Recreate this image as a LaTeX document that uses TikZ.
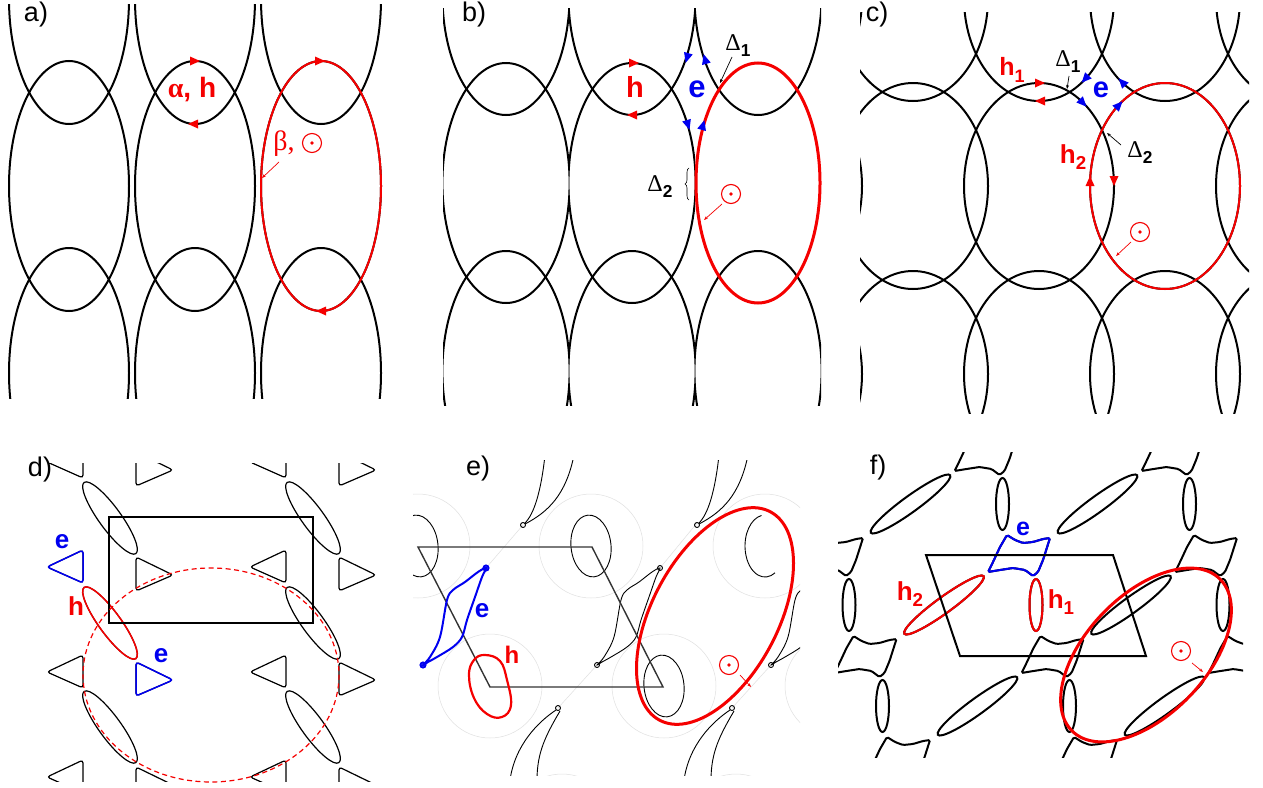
\documentclass[tikz,border=0pt]{standalone}
\usepackage{fontspec}
\setmainfont{Liberation Sans}
\newfontfamily\grk{Liberation Serif}
\usetikzlibrary{arrows.meta,decorations.pathreplacing}
\definecolor{myred}{RGB}{245,0,0}
\definecolor{myblue}{RGB}{0,0,240}
\newcommand\ahd[4]{\fill[#4,shift={(#1,#2)},rotate=#3] (5,0) -- (-5,4.5) -- (-5,-4.5) -- cycle;}
\newcommand\odotsym[2]{\draw[myred,line width=1.1pt] (#1,#2) circle (9.5);\fill[myred] (#1,#2) circle (1.8);}
\newcommand\sub[1]{\raisebox{-0.25em}{\scalebox{0.72}{#1}}}
\newcommand\cushion[1]{\draw[#1,rounded corners=1.5pt] (1007,535) -- (1015,540) -- (1023,543) -- (1033,542) -- (1043,539) -- (1050,538) -- (1043,560) -- (1038,572) -- (1033,576) -- (1025,570) -- (1013,568) -- (1000,570) -- (988,572) -- (993,562) -- (1000,547) -- cycle;}
\newcommand\epocket[2]{\draw[#1,shift={(#2,0)}] plot[smooth cycle,tension=0.55] coordinates {(423,665) (430,657) (440,637) (447,600) (453,590) (465,582) (478,572) (486,568) (482,577) (475,597) (467,620) (462,637) (453,647) (437,657) (428,662)};
\draw[#1,shift={(#2,0)}] (486,568) circle (2.5) (423,665) circle (2.5);}
\newcommand\toptail[1]{\begin{scope}[shift={(#1,0)}]\draw[eblk] (545,455) .. controls (541,492) and (534,514) .. (525,523);\draw[eblk] (574,455) .. controls (566,495) and (548,512) .. (525,524);\draw[eblk] (523,525) circle (2.5);\end{scope}}
\newcommand\bottail[1]{\begin{scope}[shift={(#1,0)}]\draw[eblk] (556,710) .. controls (538,722) and (515,745) .. (510,780);\draw[eblk] (560,711) .. controls (546,735) and (537,752) .. (537,780);\draw[eblk] (558,708) circle (2.5);\end{scope}}
\begin{document}
\begin{tikzpicture}[x=1pt,y=-1pt,
  blk/.style={line width=2pt,black},
  redl/.style={line width=2pt,myred},
  thk/.style={line width=3pt,myred},
  dblk/.style={line width=1.2pt,black},
  eblk/.style={line width=0.9pt,black},
  faint/.style={line width=0.5pt,black!12},
  fblk/.style={line width=2pt,black},
  lab/.style={font=\fontsize{27}{30}\selectfont,inner sep=0pt},
  rb/.style={font=\fontsize{#1}{#1}\selectfont\bfseries,text=myred,inner sep=0pt},
  rb/.default=26,
  bb/.style={font=\fontsize{#1}{#1}\selectfont\bfseries,text=myblue,inner sep=0pt},
  bb/.default=28,
  dl/.style={font=\fontsize{24}{26}\selectfont,inner sep=0pt},
  ptr/.style={line width=0.7pt,-{Stealth[length=4pt,width=3pt]}}]
\useasboundingbox (0,0) rectangle (1263,787);
\fill[white] (0,0) rectangle (1263,787);

% ---------------- panel a
\begin{scope}
\clip (4,4) rectangle (387,398);
\foreach \i in {0,1,2}{\foreach \j in {0,1,2}{
  \draw[blk] ({69+126*\i},{-1+187*\j}) ellipse [x radius=60,y radius=125];}}
\end{scope}
\draw[redl] (321,186) ellipse [x radius=60,y radius=125];
\ahd{195}{61}{0}{myred}\ahd{193}{124}{180}{myred}
\ahd{320}{61}{0}{myred}\ahd{321}{311}{180}{myred}
\node[lab] (la) at (36,15) {a)};
\node[rb=28] (ah) at (192,90) {{\grk α}, h};
\node[font=\fontsize{28}{30}\selectfont\grk,text=myred,inner sep=0pt] (beta) at (284,144) {β,};
\odotsym{312}{143}
\coordinate (bas) at (279,162); \coordinate (bae) at (262,178);
\draw[ptr,myred] (bas) -- (bae);

% ---------------- panel b
\foreach \c in {506,632}{
 \begin{scope}
 \clip ({\c-63},8) rectangle ({\c+63},405);
 \foreach \yy in {-5,183,371}{\draw[blk] (\c,\yy) ellipse [x radius=63.6,y radius=120];}
 \end{scope}}
\begin{scope}
\clip (695,8) rectangle (821,405);
\draw[blk] (758,-5) ellipse [x radius=63.6,y radius=120];
\draw[blk] (758,371) ellipse [x radius=63.6,y radius=120];
\end{scope}
\draw[thk] (758,183) ellipse [x radius=62,y radius=120];
\ahd{634}{63}{0}{myred}\ahd{632}{115}{180}{myred}
\ahd{687}{58}{-106}{myblue}\ahd{705}{59}{106}{myblue}
\ahd{688}{125}{-73}{myblue}\ahd{703}{125}{74}{myblue}
\node[lab] (lb) at (474,15) {b)};
\node[rb=29] (hb) at (635,87) {h};
\node[bb=31] (eb) at (697,89) {e};
\node[dl] (d1b) at (738,46) {{\grk Δ}\sub{\bfseries 1}};
\coordinate (d1bt) at (720,83); \coordinate (d1bs) at (732,57);
\draw[ptr] (d1bs) -- (d1bt);
\node[dl] (d2b) at (660,187) {{\grk Δ}\sub{\bfseries 2}};
\draw[line width=0.6pt,decorate,decoration={brace,amplitude=4pt}] (689,200) -- (689,168);
\odotsym{731}{194}
\coordinate (obs) at (722,204); \coordinate (obe) at (704,220);
\draw[ptr,myred] (obs) -- (obe);

% ---------------- panel c
\begin{scope}
\clip (860,12) rectangle (1249,413);
\foreach \i in {-1,0,1,2,3}{\foreach \j in {0,1,2}{
  \draw[blk] ({913+126*\i},{-2+188*\j}) ellipse [x radius=75,y radius=103];}}
\draw[redl] (1165,186) ellipse [x radius=75,y radius=103];
\end{scope}
\ahd{1040}{83}{0}{myred}\ahd{1040}{101}{180}{myred}
\ahd{1090}{181}{90}{myred}\ahd{1114}{181}{-90}{myred}
\ahd{1085}{79}{-133}{myblue}\ahd{1122}{82}{133}{myblue}
\ahd{1083}{103}{-47}{myblue}\ahd{1119}{105}{47}{myblue}
\node[lab] (lc) at (877,15) {c)};
\node[rb=25] (h1c) at (1012,70) {h\sub{1}};
\node[dl] (d1c) at (1068,62) {{\grk Δ}\sub{\bfseries 1}};
\coordinate (d1ct) at (1067,89); \coordinate (d1cs) at (1069,76);
\draw[ptr] (d1cs) -- (d1ct);
\node[bb=29] (ec) at (1101,90) {e};
\node[dl] (d2c) at (1140,153) {{\grk Δ}\sub{\bfseries 2}};
\coordinate (d2cs) at (1121,145); \coordinate (d2ct) at (1107,133);
\draw[ptr] (d2cs) -- (d2ct);
\node[rb=26] (h2c) at (1073,157) {h\sub{2}};
\odotsym{1140}{232}
\coordinate (ocs) at (1131,242); \coordinate (oce) at (1116,256);
\draw[ptr,myred] (ocs) -- (oce);

% ---------------- panel d
\begin{scope}
\clip (44,463) rectangle (381,781);
\foreach \x in {110,313}{\foreach \y in {518,623,727}{
  \draw[dblk,rotate around={-54:(\x,\y)}] (\x,\y) ellipse [x radius=44,y radius=11];}}
\foreach \x in {65,268}{\foreach \y in {462,567,672,777}{
  \draw[dblk,rounded corners=3pt] ({\x+18},{\y-17}) -- ({\x+18},{\y+16}) -- ({\x-18},{\y}) -- cycle;}}
\foreach \x in {154,357}{\foreach \y in {469,574,679,784}{
  \draw[dblk,rounded corners=3pt] ({\x-18},{\y-17}) -- ({\x+19},{\y+1}) -- ({\x-18},{\y+17}) -- cycle;}}
\end{scope}
\draw[line width=1.5pt,myred,rotate around={-54:(110,623)}] (110,623) ellipse [x radius=44,y radius=11];
\draw[line width=1.5pt,myblue,rounded corners=3pt] (83,550) -- (83,583) -- (47,567) -- cycle;
\draw[line width=1.5pt,myblue,rounded corners=3pt] (136,662) -- (173,680) -- (136,696) -- cycle;
\draw[line width=1.5pt] (109,517) rectangle (313,623);
\draw[myred,line width=1.2pt,dash pattern=on 5pt off 3.5pt] (211,675) ellipse [x radius=128,y radius=107];
\node[lab] (ld) at (40,470) {d)};
\node[bb=26] (ed1) at (62,542) {e};
\node[rb=26] (hd) at (76,606) {h};
\node[bb=26] (ed2) at (161,656) {e};

% ---------------- panel e
\begin{scope}
\clip (413,460) rectangle (800,775);
\foreach \p/\q in {418/546,591/546,664/686,490/686,765/546,837/686,519/406,693/406,562/826,736/826}{
  \draw[faint] (\p,\q) circle (52);}
\draw[faint] (523,525) -- (486,568) (697,523) -- (660,568) (558,708) -- (597,665) (732,708) -- (771,665);
\draw[eblk,rotate around={6:(418,546)}] (418,546) ellipse [x radius=20,y radius=31];
\draw[eblk,rotate around={6:(591,546)}] (591,546) ellipse [x radius=20,y radius=31];
\draw[eblk,rotate around={6:(664,686)}] (664,686) ellipse [x radius=20,y radius=31];
\draw[eblk] (765,546) ++(-100:20 and 31) arc[start angle=-100,end angle=-300,x radius=20,y radius=31];
\epocket{eblk}{174}
\epocket{eblk}{348}
\toptail{0}\toptail{174}
\bottail{0}\bottail{174}
\end{scope}
\draw[line width=1.4pt,black!80] (418,547) -- (592,547) -- (663,687) -- (490,687) -- cycle;
\epocket{line width=2pt,myblue}{0}
\draw[myred,line width=2.2pt] plot[smooth cycle,tension=0.7] coordinates {(485,655) (500,661) (507,680) (511,705) (502,717) (487,714) (474,698) (469,675) (474,660)};
\draw[thk,rotate around={62:(715,616)}] (715,616) ellipse [x radius=118,y radius=63];
\node[lab] (le) at (478,469) {e)};
\node[bb=26] (ee) at (482,611) {e};
\node[rb=24] (he) at (512,655) {h};
\odotsym{729}{665}
\coordinate (oes) at (740,675); \coordinate (oee) at (751,687);
\draw[ptr,myred] (oes) -- (oee);

% ---------------- panel f
\begin{scope}
\clip (838,452) rectangle (1243,757);
\foreach \n in {-2,-1,0,1,2}{\foreach \m in {-2,-1,0,1,2}{
 \begin{scope}[shift={({187*\n+33.5*\m},{101*\m})}]
  \draw[fblk,rotate around={36:(944,605)}] (944,605) ellipse [x radius=49,y radius=8];
  \draw[fblk] (1036,605) ellipse [x radius=6.5,y radius=26];
  \cushion{fblk}
 \end{scope}}}
\end{scope}
\draw[line width=2pt,myred,rotate around={36:(944,605)}] (944,605) ellipse [x radius=49,y radius=8];
\draw[line width=2pt,myred] (1036,605) ellipse [x radius=6.5,y radius=26];
\cushion{line width=2pt,myblue}
\draw[line width=2pt] (926,555) -- (1113,555) -- (1146,656) -- (960,656) -- cycle;
\draw[thk,rotate around={46:(1146,655)}] (1146,655) ellipse [x radius=106,y radius=60];
\node[lab] (lf) at (878,468) {f)};
\node[bb=25] (ef) at (1023,529) {e};
\node[rb=26] (h2f) at (910,594) {h\sub{2}};
\node[rb=26] (h1f) at (1061,602) {h\sub{1}};
\odotsym{1181}{651}
\coordinate (ofs) at (1192,663); \coordinate (ofe) at (1203,672);
\draw[ptr,myred] (ofs) -- (ofe);
\end{tikzpicture}
\end{document}
